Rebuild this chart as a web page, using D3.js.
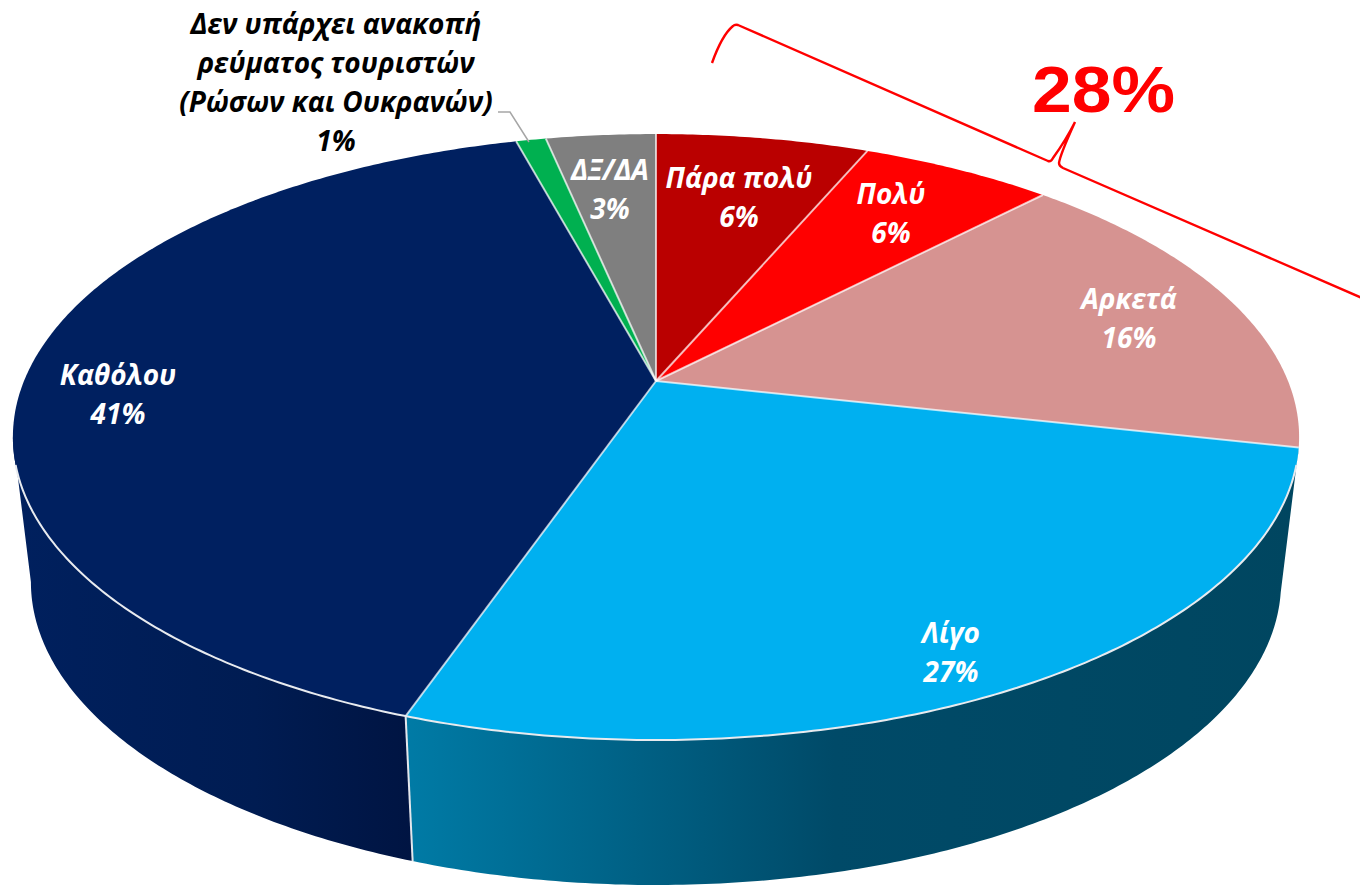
<!DOCTYPE html>
<html>
<head>
<meta charset="utf-8">
<script src="https://cdn.jsdelivr.net/npm/d3@7"></script>
<style>
  body { margin: 0; background: #fff; }
  svg { display: block; }
  .lbl { font-family: "Open Sans", sans-serif; font-weight: 700; font-style: italic; font-size: 28px; text-anchor: middle; }
</style>
</head>
<body>
<div id="vis"></div>
<script>
// data (slices clockwise from 12 o'clock)
const categories = ["Πάρα πολύ", "Πολύ", "Αρκετά", "Λίγο", "Καθόλου", "Δεν υπάρχει ανακοπή", "ΔΞ/ΔΑ"];
const values = [6.4, 5.8, 16.3, 26.8, 40.5, 0.9, 3.3];
const colors = ["#ba0000", "#ff0000", "#d69391", "#00b0f0", "#002060", "#00b050", "#7f7f7f"];
const greenLines = ["Δεν υπάρχει ανακοπή", "ρεύματος τουριστών", "(Ρώσων και Ουκρανών)"];
const bracketTotal = "28%";

const FRAME_WIDTH = 1360;
const FRAME_HEIGHT = 885;

// tilted disc: apex of the slices and perspective factors
const APEX = {x: 656, y: 381};
const RX = 632, RY = 292.6, PERSP = 0.185;
const DEPTH = 145, BOTTOM_SCALE = 0.972;

// silhouette angles of the disc, the wall is only visible between them
const WALL_START = Math.acos(-PERSP);
const WALL_END = 2 * Math.PI - WALL_START;

function top_point(a) {
  const u = Math.sin(a), v = -Math.cos(a), w = 1 - PERSP * v;
  return [APEX.x + RX * u / w, APEX.y + RY * v / w];
}
function bottom_point(a) {
  const p = top_point(a);
  return [APEX.x + (p[0] - APEX.x) * BOTTOM_SCALE, p[1] + DEPTH];
}
function arc_points(fn, a0, a1) {
  const n = Math.ceil((a1 - a0) / 0.01);
  return d3.range(n + 1).map((i) => fn(a0 + (a1 - a0) * i / n));
}

const line = d3.line();
const pie = d3.pie().sort(null).value((d) => d)(values);

const FRAME = d3.select("#vis").append("svg")
  .attr("width", FRAME_WIDTH)
  .attr("height", FRAME_HEIGHT);

const defs = FRAME.append("defs");
function wall_gradient(id, x1, x2, stops) {
  const g = defs.append("linearGradient").attr("id", id)
    .attr("gradientUnits", "userSpaceOnUse")
    .attr("x1", x1).attr("x2", x2).attr("y1", 0).attr("y2", 0);
  stops.forEach((s) => g.append("stop").attr("offset", s[0]).attr("stop-color", s[1]));
}
wall_gradient("wall3", 405, 1300, [[0, "#007ba6"], [0.48, "#004a68"], [1, "#004660"]]);
wall_gradient("wall4", 15, 415, [[0, "#00205e"], [0.6, "#001c52"], [1, "#001442"]]);

// side walls
const walls = pie.map((d, i) => ({
  i: i,
  a0: Math.max(d.startAngle, WALL_START),
  a1: Math.min(d.endAngle, WALL_END)
})).filter((d) => d.a1 > d.a0);

FRAME.selectAll(".wall")
  .data(walls)
  .enter()
  .append("path")
    .attr("class", "wall")
    .attr("d", (d) => line(arc_points(top_point, d.a0, d.a1).concat(arc_points(bottom_point, d.a0, d.a1).reverse())) + "Z")
    .attr("fill", (d) => "url(#wall" + d.i + ")");

// seam between the two walls
FRAME.append("path")
  .attr("d", line([top_point(pie[3].endAngle), bottom_point(pie[3].endAngle)]))
  .attr("stroke", "#e4e7ec").attr("stroke-width", 2).attr("fill", "none");

// top face
FRAME.selectAll(".slice")
  .data(pie)
  .enter()
  .append("path")
    .attr("class", "slice")
    .attr("d", (d) => line([[APEX.x, APEX.y]].concat(arc_points(top_point, d.startAngle, d.endAngle))) + "Z")
    .attr("fill", (d, i) => colors[i]);

// spokes
FRAME.selectAll(".spoke")
  .data(pie)
  .enter()
  .append("path")
    .attr("class", "spoke")
    .attr("d", (d) => line([[APEX.x, APEX.y], top_point(d.startAngle)]))
    .attr("stroke", "#fff").attr("stroke-opacity", 0.7).attr("stroke-width", 2).attr("fill", "none");

// light rim over the visible wall
FRAME.append("path")
  .attr("d", line(arc_points(top_point, WALL_START + 0.09, WALL_END - 0.09)))
  .attr("stroke", "#e8ebef").attr("stroke-width", 2).attr("fill", "none");

// value labels, placed by hand like in the original
const fmt = (v) => d3.format(".0f")(v) + "%";
const labelAt = [[739, 178], [891, 194], [1129, 299], [951, 633], [118, 375], null, [610, 170]];
const labelGap = 39;

categories.forEach((c, i) => {
  if (!labelAt[i]) return;
  const t = FRAME.append("text").attr("class", "lbl").attr("fill", "#fff");
  t.append("tspan").attr("x", labelAt[i][0]).attr("y", labelAt[i][1] + 10).text(c);
  t.append("tspan").attr("x", labelAt[i][0]).attr("y", labelAt[i][1] + 10 + labelGap).text(fmt(values[i]));
});

// outside label of the green slice
const outside = greenLines.concat([fmt(values[5])]);
FRAME.selectAll(".out")
  .data(outside)
  .enter()
  .append("text")
    .attr("class", "lbl out")
    .attr("x", 336)
    .attr("y", (d, i) => 34 + i * 39)
    .attr("fill", "#000")
    .text((d) => d);

// leader line
FRAME.append("path")
  .attr("d", line([[498, 112], [510, 112], [529, 142]]))
  .attr("stroke", "#a6a6a6").attr("stroke-width", 1.5).attr("fill", "none");

// hand drawn brace with the total
FRAME.append("path")
  .attr("d", "M712,63 Q722,35 733,26 Q735,24 738,25 L1048,161 Q1051,162 1053,158 Q1066,140 1075,122 Q1060,155 1059,163 Q1059,166 1063,168 L1362,298")
  .attr("stroke", "#ff0000").attr("stroke-width", 2.4).attr("fill", "none");
FRAME.append("text")
  .attr("x", 1032).attr("y", 112)
  .attr("textLength", 143).attr("lengthAdjust", "spacingAndGlyphs")
  .attr("font-family", "Liberation Sans").attr("font-weight", 700).attr("font-size", 64)
  .attr("fill", "#ff0000")
  .text(bracketTotal);
</script>
</body>
</html>
